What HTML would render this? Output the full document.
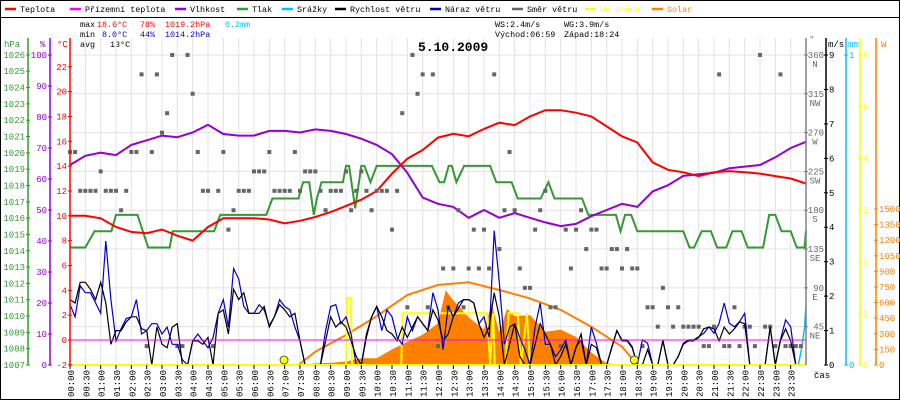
<!DOCTYPE html>
<html><head><meta charset="utf-8"><title>Weather 5.10.2009</title>
<style>
html,body{margin:0;padding:0;background:#fff;}
svg{display:block;font-family:"Liberation Mono",monospace;}
</style></head>
<body>
<svg id="chart" xmlns="http://www.w3.org/2000/svg" width="900" height="400" viewBox="0 0 900 400">
<rect x="0.5" y="0.5" width="899" height="399" fill="#fff" stroke="#000"/>
<line x1="0" y1="17.5" x2="900" y2="17.5" stroke="#000"/>
<g id="legend" font-size="8.4"></g>
<g font-size="8.4">
<text x="80" y="27" fill="#000">max</text><text x="97" y="27" fill="#ff0000">18.6°C</text><text x="140" y="27" fill="#ff0000">78%</text><text x="165" y="27" fill="#ff0000">1019.2hPa</text><text x="225" y="27" fill="#00bfff">0.2mm</text>
<text x="80" y="37" fill="#000">min</text><text x="102" y="37" fill="#0000cc">8.0°C</text><text x="140" y="37" fill="#0000cc">44%</text><text x="165" y="37" fill="#0000cc">1014.2hPa</text>
<text x="80" y="47" fill="#000">avg</text><text x="110" y="47" fill="#000">13°C</text>
<text x="495" y="27" fill="#000">WS:2.4m/s</text><text x="564" y="27" fill="#000">WG:3.9m/s</text>
<text x="495" y="37" fill="#000">Východ:06:59</text><text x="564" y="37" fill="#000">Západ:18:24</text>
</g>
<g id="grid"></g>
<g id="series"></g>
<text x="418" y="51" font-size="13" font-weight="bold" fill="#000">5.10.2009</text>
<g id="axes" font-size="9"></g>
</svg>
<script>
const tempC=[10.0,10.0,9.8,9.1,8.7,8.6,8.9,8.4,8.0,9.1,9.8,9.8,9.8,9.7,9.4,9.6,9.9,10.3,10.8,11.3,12.0,13.4,14.6,15.3,16.3,16.6,16.4,17.0,17.5,17.3,18.0,18.5,18.5,18.3,18.0,17.2,16.4,15.9,14.3,13.7,13.5,13.2,13.5,13.6,13.5,13.4,13.2,13.0,12.6];
const humidity=[64.5,67.5,68.5,67.7,71,72.5,74,73.5,75,77.5,74.5,74,74,75.5,75.5,75,76,75.5,74.5,73,71,68,62,54,52,51,47.5,50,47.5,49,47.5,46,44.8,45.5,48,50,52,51,56,58,61,61.5,62,63.5,64,64.5,67,70,72];
const pressHours=[0,0.5,0.8,1.35,1.5,2.2,2.55,3.25,3.35,4.7,4.9,6.4,6.6,7.45,7.6,7.8,7.95,8.05,8.2,8.9,9.0,9.1,9.3,9.5,9.6,9.8,10.0,11.8,12.05,12.2,12.35,12.45,12.6,12.85,13.7,13.9,14.4,14.6,15.35,15.6,15.8,16.7,16.9,17.8,17.95,18.1,18.3,18.5,20.0,20.2,20.35,20.6,20.9,21.1,21.4,21.6,21.9,22.1,22.6,22.8,23.0,23.2,23.5,23.7,23.95,24];
const pressHpa=[1014.2,1014.2,1015.2,1015.2,1016.2,1016.2,1014.2,1014.2,1015.2,1015.2,1016.2,1016.2,1017.2,1017.2,1018.2,1018.2,1016.2,1017.2,1018.2,1018.2,1019.2,1019.2,1016.6,1019.2,1019.2,1018.2,1019.2,1019.2,1018.2,1018.2,1019.2,1019.2,1018.2,1019.2,1019.2,1018.2,1018.2,1017.2,1017.2,1018.2,1017.2,1017.2,1016.2,1016.2,1015.2,1016.2,1016.2,1015.2,1015.2,1014.2,1014.2,1015.2,1015.2,1014.2,1014.2,1015.2,1015.2,1014.2,1014.2,1016.2,1016.2,1015.2,1015.2,1014.2,1014.2,1015.2];
const windSpeed=[1.9,1.8,2.4,2.4,2.2,1.9,2.4,1.8,0.6,1.0,1.0,1.25,1.4,1.4,1.05,1.0,0,1.1,0.6,0.5,1.1,1.2,0,0,0.7,0.7,0.6,0.8,0,1.5,1.6,0.9,2.2,1.9,2.1,1.5,1.5,1.5,1.7,1.1,1.4,1.75,1.6,1.4,1.5,0.7,0,0,0,0,0.7,1.4,1.1,1.25,1.1,0.7,0.25,0,0.8,1.4,1.7,1.4,1.0,0.9,0.7,1.1,0.8,1.1,1.4,1.2,1.0,1.6,1.3,0.7,0.9,1.4,1.65,1.9,1.9,1.8,1.2,0.8,1.1,2.1,1.4,0,0.6,1.2,0.25,0,0,0.6,1.2,0.9,0.6,0,0.25,0.6,0,0.5,0.9,0,0.6,0.5,0,0,0.5,1.0,0.7,0.7,0.5,0,0,0.45,0,0,0.7,0,0,0.25,0.6,0.7,0.7,0.8,1.05,1.1,1.05,0.7,1.1,0.9,1.05,1.25,1.2,0,0,0,0,1.1,0,0.7,1.05,0.7,0,0];
const windGust=[1.75,1.4,2.3,2.1,2.1,1.8,1.5,3.6,1.9,0.7,1.05,1.35,1.4,1.9,0.9,1.0,1.2,1.2,0.9,1.1,0.6,0.6,0.15,0,0.7,0.9,0.7,0.5,0.8,1.5,1.9,1.1,2.8,2.5,1.7,1.5,1.5,1.75,1.6,1.15,1.4,1.9,1.7,1.6,1.1,0.7,0,0,0,0,1.0,1.7,1.75,1.2,1.4,0.9,0,0,0.9,1.4,1.7,1.0,1.6,1.4,0.8,0.6,1.4,1.0,1.4,1.2,1.0,2.1,1.6,0.45,1.7,1.4,1.8,1.9,1.9,1.8,1.2,1.4,0.8,3.9,2.4,0.6,1.1,1.2,0.8,0.45,0,1.1,1.8,0.6,0.6,0.24,0.44,0.73,0,0.53,0.73,0,1.1,0.63,0,0,0.53,1.0,0.73,0.73,0.53,0,0.73,0.63,0,0,0.73,0,0,0.24,0.63,0.73,0.73,0.82,0.92,1.11,0.92,1.21,1.8,1.21,1.11,1.26,1.5,0,0,0,0,1.11,0,0.73,1.31,1.11,0,0];
const windDir=[247.5,247.5,202.5,202.5,202.5,202.5,225,202.5,202.5,202.5,180,202.5,247.5,247.5,337.5,22.5,247.5,337.5,270,292.5,360,22.5,22.5,360,315,247.5,202.5,202.5,22.5,202.5,247.5,157.5,180,202.5,202.5,202.5,225,225,225,247.5,202.5,202.5,202.5,202.5,247.5,202.5,225,225,225,202.5,180,202.5,202.5,202.5,225,180,202.5,225,202.5,180,202.5,202.5,202.5,157.5,202.5,292.5,67.5,360,315,337.5,67.5,337.5,22.5,112.5,67.5,112.5,180,67.5,112.5,157.5,112.5,157.5,112.5,337.5,135,180,247.5,180,112.5,90,90,157.5,180,202.5,67.5,67.5,22.5,157.5,112.5,157.5,180,135,157.5,157.5,112.5,112.5,135,135,112.5,135,112.5,112.5,22.5,67.5,67.5,45,90,67.5,45,67.5,45,45,45,45,22.5,22.5,45,337.5,22.5,22.5,67.5,22.5,45,45,22.5,360,45,45,22.5,337.5,22.5,22.5,22.5,22.5];
const solarHours=[7.5,8.0,8.5,9.0,9.5,10.0,10.5,11.0,11.5,12.0,12.25,12.5,13.0,13.5,13.75,14.0,14.25,14.5,15.0,15.5,16.0,16.5,17.0,17.5,18.0];
const solarW=[0,15,20,35,64,64,150,224,290,400,720,620,460,340,590,310,540,470,480,320,340,270,120,16,0];
const clearSkyHours=[7.45,8,9,10,11,12,13,14,15,16,17,18,18.5];
const clearSkyW=[0,128,288,470,673,770,795,721,640,530,368,176,0];
const uvHours=[0,9.0,9.05,9.15,9.2,10.8,10.85,13.6,13.7,13.8,13.85,14.2,14.3,14.6,14.7,14.9,15.0,24];
const uvIndex=[0,0,1.3,1.3,0,0,1,1,0,1,0,0,1,1,0,1,0,0];
const rainHours=[0,23.75,23.85,23.95,24];
const rainMm=[0,0,0.05,0.12,0.19];
const apparentHours=[0,24];
const apparentC=[0,0];
const sunHours=[6.98,18.4];
const hpaTicks=[1026,1025,1024,1023,1022,1021,1020,1019,1018,1017,1016,1015,1014,1013,1012,1011,1010,1009,1008,1007];
const pctTicks=[100,90,80,70,60,50,40,30,20,10,0];
const tempTicks=[22,20,18,16,14,12,10,8,6,4,2,0,-2];
const dirTicks=[360,315,270,225,180,135,90,45];
const dirNames=["N","NW","W","SW","S","SE","E","NE"];
const msTicks=[9,8,7,6,5,4,3,2,1,0];
const mmTicks=[1,0];
const uvTicks=[6,5,4,3,2,1,0];
const wTicks=[1500,1350,1200,1050,900,750,600,450,300,150,0];
const timeLabels=["00:00","00:30","01:00","01:30","02:00","02:30","03:00","03:30","04:00","04:30","05:00","05:30","06:00","06:30","07:00","07:30","08:00","08:30","09:00","09:30","10:00","10:30","11:00","11:30","12:00","12:30","13:00","13:30","14:00","14:30","15:00","15:30","16:00","16:30","17:00","17:30","18:00","18:30","19:00","19:30","20:00","20:30","21:00","21:30","22:00","22:30","23:00","23:30"];
const legendNames=["Teplota","Přízemní teplota","Vlhkost","Tlak","Srážky","Rychlost větru","Náraz větru","Směr větru","UV index","Solar"];
const legendColors=["#ff0000","#ff00ff","#9400d3","#339933","#00bfff","#000000","#0000cc","#666666","#ffff00","#ff8000"];
const legendTextColors=["#000","#000","#000","#000","#000","#000","#000","#000","#ffff00","#ff8000"];

const X0=70,X1=806,YB=365,YTOP=38;
const NS="http://www.w3.org/2000/svg";
function xOf(h){return X0+(X1-X0)*h/24;}
function yTemp(t){return 340-12.42*t;}
function yHum(p){return 365-3.1*p;}
function yPress(p){return 365-16.32*(p-1007);}
function yDir(d){return 365.5-0.8626*d;}
function yMs(v){return 365-34.44*v;}
function yMm(v){return 365-310*v;}
function yUv(v){return 365-51.67*v;}
function yW(v){return 365-0.104*v;}
function mk(tag,attrs,parent){const e=document.createElementNS(NS,tag);for(const k in attrs)e.setAttribute(k,attrs[k]);parent.appendChild(e);return e;}
function pts(xs,ys){return xs.map((x,i)=>x.toFixed(1)+","+ys[i].toFixed(1)).join(" ");}
const grid=document.getElementById('grid'),ser=document.getElementById('series'),axes=document.getElementById('axes'),leg=document.getElementById('legend');

const legX=[5,70,175,237,282,335,430,512,585,652];
legendNames.forEach((n,i)=>{
  const l=mk('line',{x1:legX[i],y1:9,x2:legX[i]+11,y2:9,stroke:legendColors[i],'stroke-width':2.5},leg);
  
  
  const t=mk('text',{x:legX[i]+15,y:12,fill:legendTextColors[i]},leg);
  t.textContent=n;
  
  
});

for(let k=0;k<=48;k++){const x=xOf(k*0.5);
  const g=mk('line',{x1:x,y1:YTOP,x2:x,y2:YB,stroke:'#e6e0e0','stroke-width':1},grid);
  
  }
dirTicks.forEach(d=>{const y=yDir(d);
  const g=mk('line',{x1:X0,y1:y,x2:X1,y2:y,stroke:'#e6e0e0','stroke-width':1},grid);
  
  });

const sx=solarHours.map(xOf),sy=solarW.map(yW);
const area=mk('polygon',{points:pts([sx[0]].concat(sx,[sx[sx.length-1]]),[YB].concat(sy,[YB])),fill:'#ff8000'},ser);


const arc=mk('polyline',{points:pts(clearSkyHours.map(xOf),clearSkyW.map(yW)),fill:'none',stroke:'#ff8000','stroke-width':2},ser);


const uv=mk('polyline',{points:pts(uvHours.map(xOf),uvIndex.map(yUv)),fill:'none',stroke:'#ffff00','stroke-width':2},ser);


const rain=mk('polyline',{points:pts(rainHours.map(xOf),rainMm.map(yMm)),fill:'none',stroke:'#00bfff','stroke-width':1.5},ser);


const half=tempC.map((_,i)=>xOf(i*0.5));
const pr=mk('polyline',{points:pts(pressHours.map(xOf),pressHpa.map(yPress)),fill:'none',stroke:'#339933','stroke-width':2},ser);


const hu=mk('polyline',{points:pts(half,humidity.map(yHum)),fill:'none',stroke:'#9400d3','stroke-width':2},ser);


const te=mk('polyline',{points:pts(half,tempC.map(yTemp)),fill:'none',stroke:'#ff0000','stroke-width':2},ser);


windDir.forEach((d,i)=>{const x=xOf(i/6);
  const s=mk('rect',{x:x-2,y:yDir(d)-2,width:4,height:4,fill:'#666'},ser);
  
  });
const tenMin=windSpeed.map((_,i)=>xOf(i/6));
const gu=mk('polyline',{points:pts(tenMin,windGust.map(yMs)),fill:'none',stroke:'#0000cc','stroke-width':1.2},ser);


const ws=mk('polyline',{points:pts(tenMin,windSpeed.map(yMs)),fill:'none',stroke:'#000','stroke-width':1.2},ser);


const ap=mk('polyline',{points:pts(apparentHours.map(xOf),apparentC.map(yTemp)),fill:'none',stroke:'#ff00ff','stroke-width':1},ser);


const base=mk('line',{x1:X0,y1:YB,x2:X1,y2:YB,stroke:'#ffff00','stroke-width':2},ser);


sunHours.forEach(h=>{
  const c=mk('circle',{cx:xOf(h),cy:360,r:4,fill:'#ffff00',stroke:'#333','stroke-width':0.8},ser);
  
  });

function vAxis(x,color,ticks,yfn,side,name,fmt){
  const l=mk('line',{x1:x,y1:YTOP,x2:x,y2:YB,stroke:color,'stroke-width':1.5},axes);
  
  
  ticks.forEach((v,i)=>{const y=yfn(v);
    mk('line',{x1:x-2,y1:y,x2:x+2,y2:y,stroke:color},axes);
    const t=mk('text',{x:side<0?x-3:x+3,y:y+3,fill:color,'text-anchor':side<0?'end':'start'},axes);
    t.textContent=fmt?fmt(v,i):String(v);
    
    });
}
vAxis(28,'#339933',hpaTicks,yPress,-1,'pressure-axis');
vAxis(50,'#9400d3',pctTicks,yHum,-1,'humidity-axis');
vAxis(70,'#ff0000',tempTicks,yTemp,-1,'temperature-axis');
vAxis(826,'#000',msTicks,yMs,1,'wind-speed-axis');
vAxis(846,'#00bfff',mmTicks,yMm,1,'rain-axis');
vAxis(860,'#ffff00',uvTicks,yUv,1,'uv-axis');
vAxis(876,'#ff8000',wTicks,yW,1,'solar-axis');
const dl=mk('line',{x1:806,y1:YTOP,x2:806,y2:YB,stroke:'#808080','stroke-width':1.5},axes);


dirTicks.forEach((d,i)=>{const y=yDir(d);
  mk('line',{x1:804,y1:y,x2:808,y2:y,stroke:'#808080'},axes);
  const t=mk('text',{x:824,y:y+3,fill:'#666','text-anchor':'end'},axes);
  t.textContent=String(d);
  
  
  const n=mk('text',{x:815,y:y+12,fill:'#666','text-anchor':'middle'},axes);
  n.textContent=dirNames[i];
  
  });
[['hPa',4,47,'#339933'],['%',40,47,'#9400d3'],['°C',57,47,'#ff0000'],['°',809,42,'#666'],['m/s',828,47,'#000'],['mm',848,47,'#00bfff'],['W',881,47,'#ff8000']].forEach(a=>{
  const t=mk('text',{x:a[1],y:a[2],fill:a[3]},axes);
  t.textContent=a[0];
  
  });
timeLabels.forEach((lab,k)=>{const x=xOf(k*0.5);
  mk('line',{x1:x,y1:365,x2:x,y2:369,stroke:'#000'},axes);
  const t=mk('text',{x:x+4,y:370,fill:'#000','text-anchor':'end',transform:'rotate(-90 '+(x+4)+' 370)'},axes);
  t.textContent=lab;
  
  });
const cas=mk('text',{x:814,y:378,fill:'#000'},axes);
cas.textContent='čas';


</script>
</body></html>
